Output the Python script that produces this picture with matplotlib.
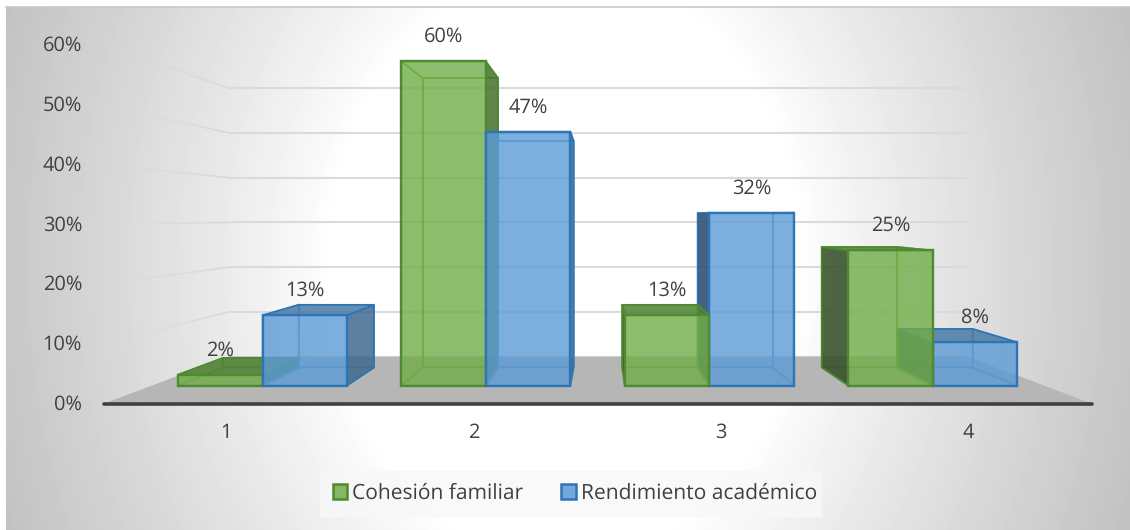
import numpy as np
import matplotlib
matplotlib.use("Agg")
import matplotlib.pyplot as plt
from matplotlib.patches import Patch, Polygon, Rectangle
from matplotlib.collections import LineCollection

plt.rcParams['font.family'] = ['Open Sans', 'DejaVu Sans']
plt.rcParams['text.hinting'] = 'no_hinting'
plt.rcParams['text.hinting_factor'] = 1

categories = ['1', '2', '3', '4']
cohesion = [2, 60, 13, 25]
rendimiento = [13, 47, 32, 8]
y_ticks = [0, 10, 20, 30, 40, 50, 60]
series_names = ['Cohesión familiar', 'Rendimiento académico']

W, H = 1130, 530
TEXT = '#404040'
FS = 14.6

# pixel layout of the front plane of the bars
PX_PER_PCT = 5.4
BASE_PX = 385.5
PX_PER_GROUP = 223.4
GROUP1_PX = 262.5
BAR_W = 84.5 / PX_PER_GROUP

# depth as a scale towards the vanishing point
VP_PX = (600, 217)
S_BAR_BACK = 0.893
S_WALL = 0.827
S_FLOOR_FRONT = 1.107

fig = plt.figure(figsize=(W / 100, H / 100), dpi=100)
ax = fig.add_axes([0, 0, 1, 1])
# x in groups, y in percent, both on the front plane of the bars
ax.set_xlim(1 - GROUP1_PX / PX_PER_GROUP, 1 + (W - GROUP1_PX) / PX_PER_GROUP)
ax.set_ylim((BASE_PX - H) / PX_PER_PCT, BASE_PX / PX_PER_PCT)
ax.axis('off')

VP = (1 + (VP_PX[0] - GROUP1_PX) / PX_PER_GROUP, (BASE_PX - VP_PX[1]) / PX_PER_PCT)


def proj(x, v, s=1.0):
    return VP[0] + s * (x - VP[0]), VP[1] + s * (v - VP[1])


def px_x(p):
    return 1 + (p - GROUP1_PX) / PX_PER_GROUP


def px_y(p):
    return (BASE_PX - p) / PX_PER_PCT


# background gradient
yy, xx = np.mgrid[0:H, 0:W]
d = np.sqrt(((xx - 565) / 560.0) ** 2 + ((yy - 265) / 700.0) ** 2)
shade = 1 - 0.25 * np.clip((d - 0.42) / 0.68, 0, 1) ** 0.9
shade[:7, :] = 1
shade[:, :6] = 1
ax.imshow(shade, cmap='gray', vmin=0, vmax=1, aspect='auto', zorder=0,
          extent=(px_x(0), px_x(W), px_y(H), px_y(0)), interpolation='bilinear')
ax.plot([px_x(6), px_x(W)], [px_y(7.5), px_y(7.5)], color='#c9c9c9', lw=1.2, zorder=1)

# floor
x_left, x_right = px_x(152), px_x(1044)
ax.add_patch(Polygon([proj(x_left, 0, S_FLOOR_FRONT), proj(x_right, 0, S_FLOOR_FRONT),
                      proj(x_right, 0, S_WALL), proj(x_left, 0, S_WALL)],
                     fc='#b6b6b6', ec='none', zorder=1))

# gridlines: back wall and the fading left wall
for t in y_ticks[1:]:
    ax.plot(*zip(proj(x_left, t, S_WALL), proj(x_right, t, S_WALL)),
            color='#dadada', lw=1.5, zorder=1.5, solid_capstyle='butt')
    p0 = np.array(proj(x_left, t, S_WALL))
    p1 = np.array(proj(x_left, t, S_FLOOR_FRONT))
    fr = np.linspace(0, 1, 21)
    pts = p0 + np.outer(fr, p1 - p0)
    segs = np.stack([pts[:-1], pts[1:]], axis=1)
    cols = [(0.85, 0.85, 0.85, a) for a in np.linspace(1, 0.15, 20)]
    ax.add_collection(LineCollection(segs, colors=cols, linewidths=1.3, zorder=1.5))

# axis line
ax.plot(*zip(proj(x_left, 0, S_FLOOR_FRONT), proj(x_right, 0, S_FLOOR_FRONT)),
        color=TEXT, lw=2.6, zorder=2, solid_capstyle='round')

GREEN = dict(front='#70ad47', edge='#4e8a30', edge_soft='#5c9e3c', top='#4f8232',
             left='#35502a', right='#44702a')
BLUE = dict(front='#5b9bd5', edge='#2e75b6', edge_soft='#4a8ccb', top='#4a7aa6',
            left='#2b4d70', right='#40698f')


def box(x0, x1, v, st, z):
    f = [(x0, 0), (x1, 0), (x1, v), (x0, v)]
    b = [proj(x, y, S_BAR_BACK) for x, y in f]
    show_left = b[0][0] < x0
    show_right = b[1][0] > x1
    show_top = b[2][1] > v

    def face(pts, fc, zz, ec=None, lw=1.2):
        ax.add_patch(Polygon(pts, closed=True, fc=fc, ec=ec or 'none', lw=lw, zorder=zz,
                             joinstyle='miter'))

    soft = matplotlib.colors.to_rgba(st['edge_soft'], 0.75)
    # hidden faces only show as lines through the front
    face(b, 'none', z, ec=soft)
    face([f[0], f[1], b[1], b[0]], 'none', z, ec=soft)
    left = [f[0], f[3], b[3], b[0]]
    right = [f[1], f[2], b[2], b[1]]
    top = [f[3], f[2], b[2], b[3]]
    if show_left:
        face(left, matplotlib.colors.to_rgba(st['left'], 0.88), z + 0.1, ec=st['edge'])
    else:
        face(left, 'none', z, ec=soft)
    if show_right:
        face(right, matplotlib.colors.to_rgba(st['right'], 0.85), z + 0.1, ec=st['edge'])
    else:
        face(right, 'none', z, ec=soft)
    if show_top:
        face(top, matplotlib.colors.to_rgba(st['top'], 0.85), z + 0.2, ec=st['edge'])
    else:
        face(top, 'none', z, ec=soft)
    face(f, matplotlib.colors.to_rgba(st['front'], 0.8), z + 0.3, ec=st['edge'], lw=1.7)


# bars right of the vanishing point overlap the other way round
for i in range(len(categories)):
    g = i + 1
    if proj(g, 0, S_BAR_BACK)[0] < g:
        z_green, z_blue = 4, 3
    else:
        z_green, z_blue = 3, 4
    box(g - BAR_W, g, cohesion[i], GREEN, z_green)
    box(g, g + BAR_W, rendimiento[i], BLUE, z_blue)
    for x_c, v in ((g - BAR_W / 2, cohesion[i]), (g + BAR_W / 2, rendimiento[i])):
        ax.text(x_c, v + 24.5 / PX_PER_PCT, '%d%%' % v, ha='center', va='center',
                fontsize=FS, color=TEXT, zorder=8)
    x_t, y_t = proj(g, 0, S_FLOOR_FRONT)
    ax.text(x_t, px_y(433), categories[i], ha='center', va='center', fontsize=FS, color=TEXT, zorder=8)

# y labels sit on the front edge of the left wall
for t in y_ticks:
    _, y_t = proj(x_left, t, S_FLOOR_FRONT)
    ax.text(px_x(82), y_t - 1 / PX_PER_PCT, '%d%%' % t, ha='right', va='center', fontsize=FS, color=TEXT, zorder=8)

# legend band and legend
ax.add_patch(Rectangle((px_x(320), px_y(517)), px_x(822) - px_x(320), px_y(471) - px_y(517),
                       fc='#f8f8f8', ec='none', alpha=0.85, zorder=1))
handles = [Patch(fc=matplotlib.colors.to_rgba(GREEN['front'], 0.85), ec=GREEN['edge'], lw=1.8, label=series_names[0]),
           Patch(fc=matplotlib.colors.to_rgba(BLUE['front'], 0.85), ec=BLUE['edge'], lw=1.8, label=series_names[1])]
ax.legend(handles=handles, loc='center', bbox_to_anchor=(575 / W, 1 - 493.5 / H), ncol=2, frameon=False,
          fontsize=15.2, labelcolor=TEXT, handlelength=0.68, handleheight=0.68, handletextpad=0.25,
          columnspacing=1.8, borderpad=0)

fig.savefig('out.png', dpi=100)
